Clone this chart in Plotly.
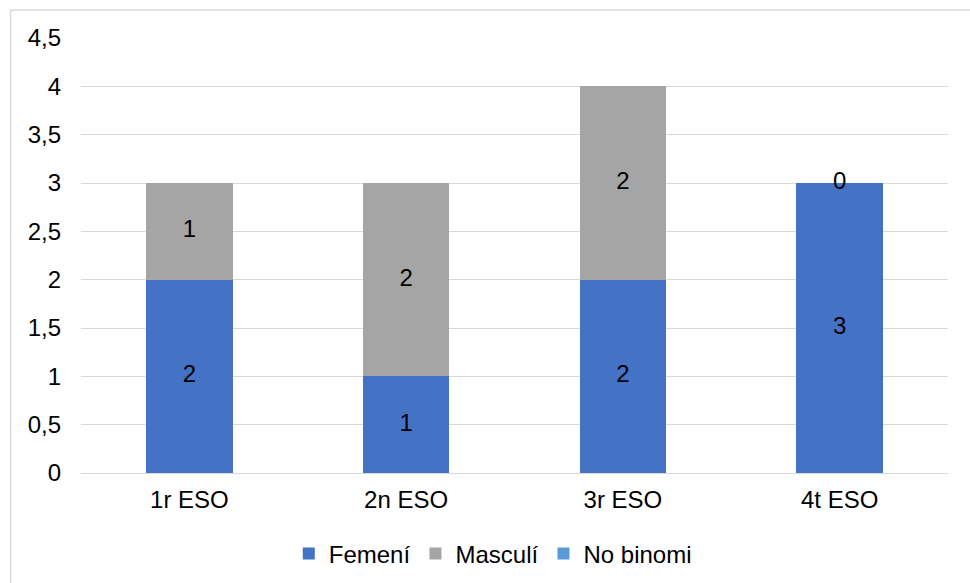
import plotly.graph_objects as go

# Students per course, split by gender
cursos = ["1r ESO", "2n ESO", "3r ESO", "4t ESO"]
femeni = [2, 1, 2, 3]
masculi = [1, 2, 2, 0]
no_binomi = [None, None, None, None]

y_ticks = [0, 0.5, 1, 1.5, 2, 2.5, 3, 3.5, 4, 4.5]
y_tick_text = ["0", "0,5", "1", "1,5", "2", "2,5", "3", "3,5", "4", "4,5"]

FONT = "Liberation Sans, Arial, sans-serif"
FS = 24
COL_F = "#4472C4"
COL_M = "#A5A5A5"
COL_N = "#5B9BD5"

# Plot area in pixels
PL, PR, PT, PB = 80.5, 948.5, 38, 473
W, H = 970, 583

fig = go.Figure()
fig.add_trace(go.Bar(name="Femení", x=cursos, y=femeni, marker_color=COL_F,
                     marker_line_width=0, hoverinfo="skip"))
fig.add_trace(go.Bar(name="Masculí", x=cursos, y=masculi, marker_color=COL_M,
                     marker_line_width=0, hoverinfo="skip"))
fig.add_trace(go.Bar(name="No binomi", x=cursos, y=[v or 0 for v in no_binomi],
                     marker_color=COL_N, marker_line_width=0, hoverinfo="skip"))

# Data labels centred in each stacked segment
def seg_labels(values, bases):
    xs, ys, ts = [], [], []
    for c, v, b in zip(cursos, values, bases):
        if v is None:
            continue
        xs.append(c)
        ys.append(b + v / 2)
        ts.append(str(v))
    return xs, ys, ts

base_f = [0] * len(cursos)
base_m = femeni
for vals, bases in [(femeni, base_f), (masculi, base_m)]:
    xs, ys, ts = seg_labels(vals, bases)
    fig.add_trace(go.Scatter(x=xs, y=ys, text=ts, mode="text",
                             textfont=dict(family=FONT, size=FS, color="#000000"),
                             textposition="middle center", showlegend=False,
                             hoverinfo="skip"))

fig.update_layout(
    barmode="stack",
    bargap=0.6,
    width=W,
    height=H,
    margin=dict(l=PL, r=W - PR, t=PT, b=H - PB),
    paper_bgcolor="white",
    plot_bgcolor="white",
    font=dict(family=FONT, size=FS, color="#000000"),
    showlegend=True,
    legend=dict(orientation="h", xref="container", x=0.508, xanchor="center",
                yref="container", y=0.05, yanchor="middle",
                font=dict(family=FONT, size=FS, color="#000000"),
                traceorder="normal", itemwidth=30),
    xaxis=dict(showgrid=False, showline=False, ticks="", tickfont=dict(size=FS),
               ticklabelstandoff=10),
    yaxis=dict(range=[0, 4.5], tickvals=y_ticks, ticktext=y_tick_text,
               showgrid=True, gridcolor="#D9D9D9", gridwidth=1,
               zeroline=True, zerolinecolor="#D9D9D9", zerolinewidth=1,
               showline=False, ticks="", tickfont=dict(size=FS),
               ticklabelstandoff=19),
    shapes=[dict(type="rect", xref="paper", yref="paper",
                 x0=(10 - PL) / (PR - PL), x1=1.2, y0=-0.4,
                 y1=(PB - 10) / (PB - PT),
                 line=dict(color="#D9D9D9", width=1.5), fillcolor="rgba(0,0,0,0)",
                 layer="below")],
)

fig.write_html("out.html")
